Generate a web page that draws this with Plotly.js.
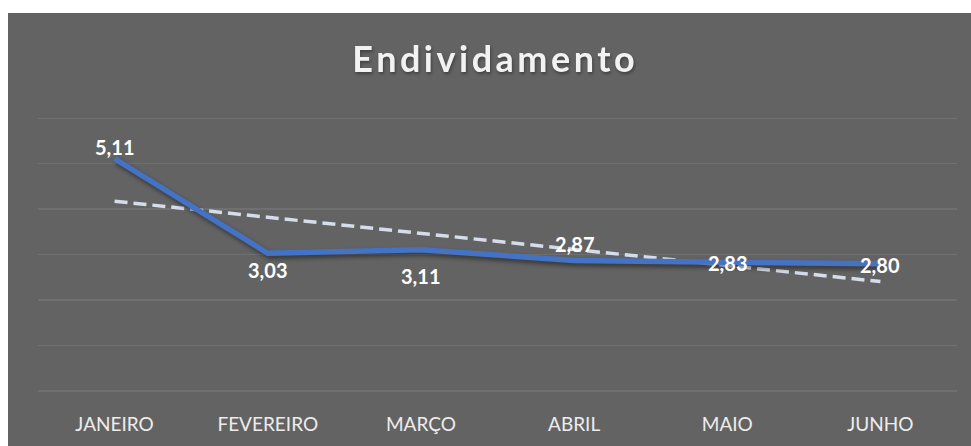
<!DOCTYPE html>
<html><head><meta charset="utf-8">
<script src="https://cdn.plot.ly/plotly-3.0.1.min.js"></script>
<style>
html,body{margin:0;padding:0;background:#fff;width:971px;height:446px;overflow:hidden}
#chart{position:absolute;left:8px;top:13px;width:963px;height:433px}
.gtitle{letter-spacing:3.5px; filter: drop-shadow(1px 2px 1.5px rgba(0,0,0,0.35));}
.scatterlayer .trace:last-child .js-line{filter: drop-shadow(2px 3px 2px rgba(0,0,0,0.45));}
</style></head><body>
<div id="chart"></div>
<script>
const months = ['JANEIRO','FEVEREIRO','MARÇO','ABRIL','MAIO','JUNHO'];
const values = [5.11, 3.03, 3.11, 2.87, 2.83, 2.80];
const labelShift = [12, -17, -26, 17, -1, -1];

// linear trendline (least squares over category index), as Excel computes it
const n = values.length;
const idx = values.map((_, i) => i);
const mx = idx.reduce((a, b) => a + b, 0) / n;
const my = values.reduce((a, b) => a + b, 0) / n;
let sxy = 0, sxx = 0;
idx.forEach((x, i) => { sxy += (x - mx) * (values[i] - my); sxx += (x - mx) * (x - mx); });
const slope = sxy / sxx, icpt = my - slope * mx;
const trend = idx.map(x => icpt + slope * x);

const fmt = v => v.toFixed(2).replace('.', ',');

const data = [
  {x: months, y: trend, type: 'scatter', mode: 'lines',
   line: {color: '#D6DCE9', width: 3.5, dash: '13px,6px'}, hoverinfo: 'skip'},
  {x: months, y: values, type: 'scatter', mode: 'lines',
   line: {color: '#4472C4', width: 5.5}}
];

const annotations = values.map((v, i) => ({
  x: months[i], y: v, xref: 'x', yref: 'y', text: '<b>' + fmt(v) + '</b>',
  showarrow: false, xanchor: 'center', yanchor: 'middle', yshift: labelShift[i],
  font: {family: 'Lato, sans-serif', size: 20, color: '#FFFFFF'}
}));

const layout = {
  width: 963, height: 433,
  paper_bgcolor: '#636363', plot_bgcolor: '#636363',
  margin: {l: 30, r: 14, t: 103, b: 55},
  showlegend: false,
  title: {text: '<b>Endividamento</b>', x: 0.506, xanchor: 'center', y: 0.893, yanchor: 'middle',
          font: {family: 'Lato, sans-serif', size: 36, color: '#F2F2F2'}},
  xaxis: {type: 'category', range: [-0.5, 5.5], showgrid: false, zeroline: false, showline: false,
          ticks: '', ticklabelstandoff: 20,
          tickfont: {family: 'Lato, sans-serif', size: 19, color: '#EDEDED'}},
  yaxis: {range: [0, 6.05], tick0: 0, dtick: 1, showticklabels: false, ticks: '',
          showgrid: true, gridcolor: '#707070', gridwidth: 1.5,
          zeroline: true, zerolinecolor: '#707070', zerolinewidth: 1.5, showline: false},
  annotations: annotations,
  hovermode: false
};

Plotly.newPlot('chart', data, layout, {displayModeBar: false, staticPlot: true});
</script></body></html>
